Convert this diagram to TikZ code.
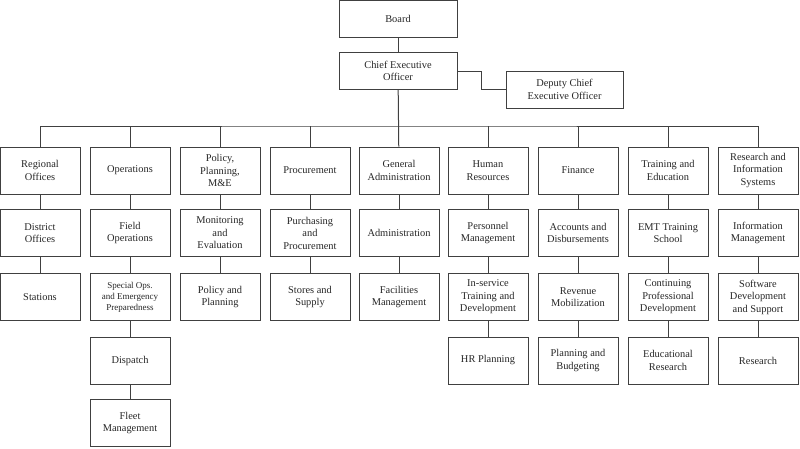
\documentclass[tikz,border=0pt]{standalone}
\usepackage{fontspec}
\setmainfont{Liberation Serif}
\tikzset{
  unit/.style={draw=black!75, line width=1pt, text=black!85, align=center,
    minimum width=80pt, minimum height=47pt, inner sep=1pt,
    font=\fontsize{10.4}{12.5}\selectfont},
  head/.style={unit, minimum width=118pt, minimum height=37pt},
  link/.style={draw=black!75, line width=1pt},
}
\begin{document}
\begin{tikzpicture}[x=1pt,y=-1pt]
\useasboundingbox (0,0) rectangle (800,448);

% top of the chart
\node[head] (board) at (398,19) {Board};
\node[head] (ceo) at (398,71) {Chief Executive\\Officer};
\node[head,minimum width=117pt] (dceo) at (564.5,89.5) {Deputy Chief\\Executive Officer};

% departments
\node[unit] (reg) at (40,170.5) {Regional\\Offices};
\node[unit] (ops) at (130,170.5) {Operations};
\node[unit] (pol) at (220,170.5) {Policy,\\Planning,\\M\&E};
\node[unit] (proc) at (310,170.5) {Procurement};
\node[unit] (gen) at (399,170.5) {General\\Administration};
\node[unit] (hr) at (488,170.5) {Human\\Resources};
\node[unit] (fin) at (578,170.5) {Finance};
\node[unit] (tre) at (668,170.5) {Training and\\Education};
\node[unit] (ris) at (758,170.5) {Research and\\Information\\Systems};

% second row
\node[unit] (dist) at (40,233) {District\\Offices};
\node[unit] (field) at (130,233) {Field\\Operations};
\node[unit] (mon) at (220,233) {Monitoring\\and\\Evaluation};
\node[unit] (purch) at (310,233) {Purchasing\\and\\Procurement};
\node[unit] (adm) at (399,233) {Administration};
\node[unit] (pers) at (488,233) {Personnel\\Management};
\node[unit] (acc) at (578,233) {Accounts and\\Disbursements};
\node[unit] (emt) at (668,233) {EMT Training\\School};
\node[unit] (info) at (758,233) {Information\\Management};

% third row
\node[unit] (stat) at (40,297) {Stations};
\node[unit,font=\fontsize{9}{11}\selectfont] (spec) at (130,297) {Special Ops.\\and Emergency\\Preparedness};
\node[unit] (plan) at (220,297) {Policy and\\Planning};
\node[unit] (store) at (310,297) {Stores and\\Supply};
\node[unit] (fac) at (399,297) {Facilities\\Management};
\node[unit] (inserv) at (488,297) {In-service\\Training and\\Development};
\node[unit] (rev) at (578,297) {Revenue\\Mobilization};
\node[unit] (cpd) at (668,297) {Continuing\\Professional\\Development};
\node[unit] (soft) at (758,297) {Software\\Development\\and Support};

% fourth and fifth rows
\node[unit] (disp) at (130,360.5) {Dispatch};
\node[unit] (hrp) at (488,360.5) {HR Planning};
\node[unit] (budg) at (578,360.5) {Planning and\\Budgeting};
\node[unit] (edu) at (668,360.5) {Educational\\Research};
\node[unit] (res) at (758,360.5) {Research};
\node[unit] (fleet) at (130,423) {Fleet\\Management};

% connectors
\coordinate (bus) at (399,126);
\draw[link] (board) -- (ceo);
\draw[link] (ceo.east) -- ++(24,0) |- (dceo.west);
\draw[link] (ceo) -- (gen);
\draw[link] (reg.north) |- (bus) -| (ris.north);
\foreach \d in {ops,pol,proc,hr,fin,tre}
  \draw[link] (\d.north) -- (\d.north |- bus);

\draw[link] (reg) -- (dist) -- (stat);
\draw[link] (ops) -- (field) -- (spec) -- (disp) -- (fleet);
\draw[link] (pol) -- (mon) -- (plan);
\draw[link] (proc) -- (purch) -- (store);
\draw[link] (gen) -- (adm) -- (fac);
\draw[link] (hr) -- (pers) -- (inserv) -- (hrp);
\draw[link] (fin) -- (acc) -- (rev) -- (budg);
\draw[link] (tre) -- (emt) -- (cpd) -- (edu);
\draw[link] (ris) -- (info) -- (soft) -- (res);
\end{tikzpicture}
\end{document}
